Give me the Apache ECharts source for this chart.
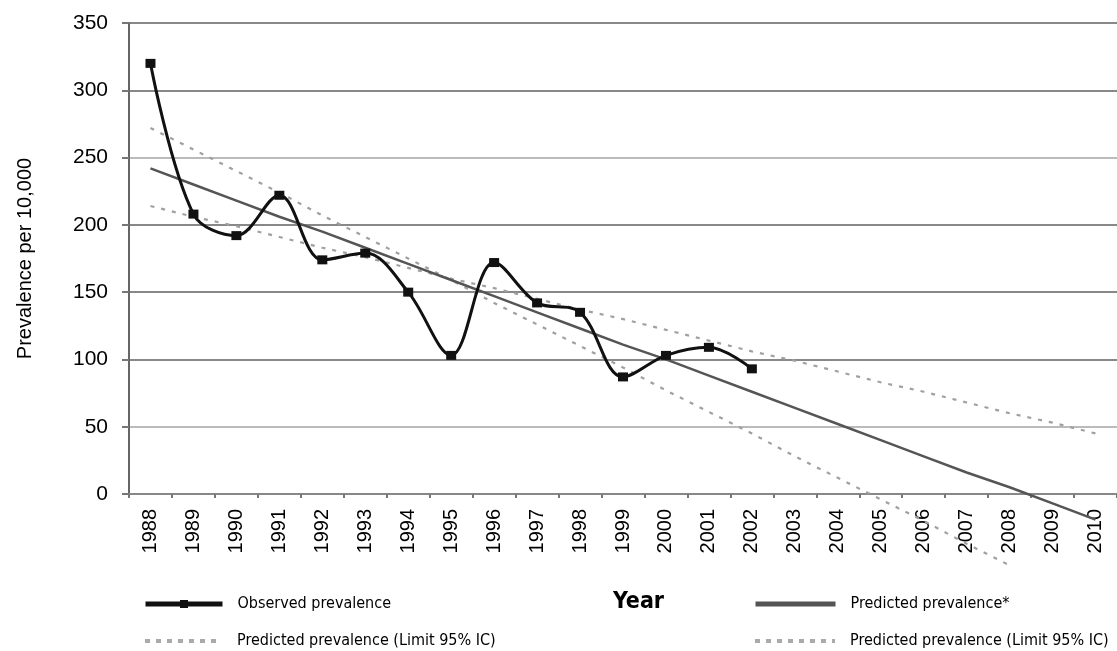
<!DOCTYPE html>
<html lang="en">
<head>
    <meta charset="UTF-8">
    <title>Prevalence per 10,000</title>
    <script src="https://cdn.jsdelivr.net/npm/echarts@6/dist/echarts.min.js"></script>
    <style>
        * { margin: 0; padding: 0; box-sizing: border-box; }
        body { background: #fff; }
        #chart { width: 1117px; height: 651px; }
    </style>
</head>
<body>
    <div id="chart"></div>

    <script>
        // data
        const years = ['1988', '1989', '1990', '1991', '1992', '1993', '1994', '1995', '1996', '1997', '1998',
            '1999', '2000', '2001', '2002', '2003', '2004', '2005', '2006', '2007', '2008', '2009', '2010'];
        const observed = [320, 208, 192, 222, 174, 179, 150, 103, 172, 142, 135, 87, 103, 109, 93];
        const predicted = [242, 230, 218, 206, 195, 183, 171, 159, 147, 135, 123, 111, 100, 88, 76, 64, 52, 40, 28, 16, 5, -7, -19];
        // the two 95% limit lines cross the fit around 1995
        const limitA = [272, 256, 240, 224, 207, 191, 175, 159, 142, 126, 110, 94, 77, 61, 45, 28, 12, -4, -20, -37, -53];
        const limitB = [214, 206, 199, 191, 183, 176, 168, 160, 153, 145, 137, 130, 122, 114, 106, 99, 91, 83, 76, 68, 60, 53, 45];
        const yTicks = [0, 50, 100, 150, 200, 250, 300, 350];

        const narrow = '"Liberation Sans Narrow", "DejaVu Sans Condensed", sans-serif';
        const limitName = 'Predicted prevalence (Limit 95% IC)';
        const dotted = { color: '#a0a0a0', width: 2.2, type: [4, 7] };

        const chart = echarts.init(document.getElementById('chart'));

        // one legend per entry so each can sit where the original put it
        function legendAt(name, left, top, width, extra) {
            return Object.assign({
                left: left,
                top: top,
                padding: 0,
                itemWidth: width,
                itemHeight: 10,
                selectedMode: false,
                textStyle: { fontFamily: narrow, fontSize: 16, color: '#000', padding: [0, 0, 0, 10] },
                data: [name]
            }, extra);
        }

        const option = {
            animation: false,
            textStyle: { fontFamily: 'Liberation Sans, Arial, sans-serif', color: '#000' },
            grid: { left: 129, top: 23, width: 991, height: 471 },
            xAxis: {
                type: 'category',
                data: years,
                boundaryGap: true,
                axisLine: { lineStyle: { color: '#888', width: 2 } },
                axisTick: { show: true, length: 4, lineStyle: { color: '#777', width: 2 } },
                axisLabel: { rotate: 90, fontSize: 20, color: '#000', margin: 15 }
            },
            yAxis: {
                type: 'value',
                min: yTicks[0],
                max: yTicks[yTicks.length - 1],
                interval: 50,
                name: 'Prevalence per 10,000',
                nameLocation: 'middle',
                nameRotate: 90,
                nameGap: 94,
                nameTextStyle: { fontSize: 20, color: '#000' },
                axisLine: { show: true, lineStyle: { color: '#666', width: 2 } },
                axisTick: { show: true, length: 7, lineStyle: { color: '#777', width: 2 } },
                axisLabel: { fontSize: 21, color: '#000', margin: 21 },
                splitLine: {
                    lineStyle: {
                        width: 2,
                        color: ['#888', '#bbb', '#888', '#888', '#888', '#bbb', '#888', '#888']
                    }
                }
            },
            legend: [
                legendAt('Observed prevalence', 143, 596, 77, { lineStyle: { width: 5 } }),
                legendAt(limitName, 143, 633, 77, { itemStyle: { opacity: 0 }, lineStyle: { color: '#aaa', width: 4, type: [5, 6] } }),
                legendAt('Predicted prevalence*', 753, 596, 80, { itemStyle: { opacity: 0 }, lineStyle: { width: 5 } }),
                legendAt(limitName + ' ', 753, 633, 80, { itemStyle: { opacity: 0 }, lineStyle: { color: '#aaa', width: 4, type: [5, 6] } })
            ],
            graphic: [{
                type: 'text',
                left: 613,
                top: 591,
                style: { text: 'Year', font: 'bold 23px ' + narrow, fill: '#000' }
            }],
            series: [{
                name: 'Observed prevalence',
                type: 'line',
                data: observed,
                smooth: 0.35,
                symbol: 'rect',
                symbolSize: [10, 9],
                itemStyle: { color: '#111' },
                lineStyle: { color: '#111', width: 3 },
                z: 5
            }, {
                name: 'Predicted prevalence*',
                type: 'line',
                data: predicted,
                symbol: 'none',
                clip: false,
                lineStyle: { color: '#555', width: 2.5 },
                itemStyle: { color: '#555' },
                z: 3
            }, {
                name: limitName,
                type: 'line',
                data: limitA,
                symbol: 'none',
                clip: false,
                lineStyle: dotted,
                itemStyle: { color: '#a0a0a0' },
                z: 2
            }, {
                name: limitName + ' ',
                type: 'line',
                data: limitB,
                symbol: 'none',
                clip: false,
                lineStyle: dotted,
                itemStyle: { color: '#a0a0a0' },
                z: 2
            }]
        };

        chart.setOption(option);

        window.addEventListener('resize', function () {
            chart.resize();
        });
    </script>
</body>
</html>
